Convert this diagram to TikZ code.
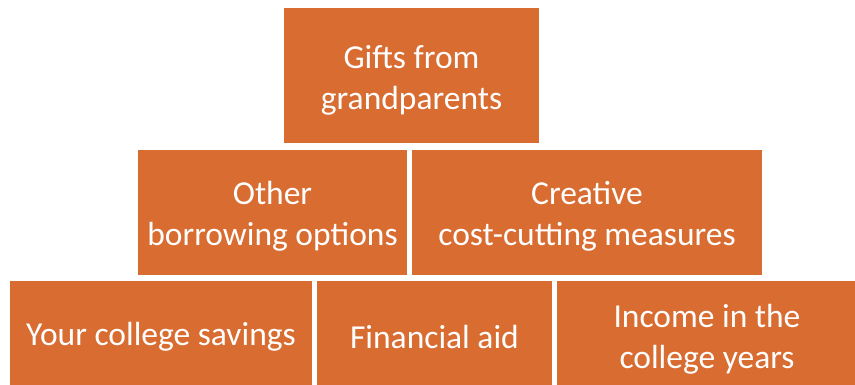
\documentclass[tikz,border=0pt]{standalone}
\usepackage{fontspec}
\setmainfont{Carlito}
\definecolor{brick}{HTML}{D86C31}
\begin{document}
\begin{tikzpicture}[x=1pt,y=-1pt,
  block/.style={fill=brick, draw=none, text=white, align=center,
    font=\fontsize{33.5}{41}\selectfont}]
\useasboundingbox (0,0) rectangle (855,385);
\clip (0,0) rectangle (855,385);
% top tier
\fill[brick] (284,8) rectangle (539,143);
\node[block] (gifts) at (411.5,80) {Gifts from\\grandparents};
% middle tier
\fill[brick] (138,150) rectangle (407,275);
\node[block] (borrow) at (272.5,216) {Other\\borrowing options};
\fill[brick] (412,150) rectangle (762,275);
\node[block] (cost) at (587,216) {Creative\\cost-cutting measures};
% bottom tier
\fill[brick] (10,281) rectangle (312,390);
\node[block] (savings) at (161,337) {Your college savings};
\fill[brick] (317,281) rectangle (552,390);
\node[block] (aid) at (434.5,337) {Financial aid};
\fill[brick] (557,281) rectangle (860,390);
\node[block] (income) at (707,339) {Income in the\\college years};
\end{tikzpicture}
\end{document}
